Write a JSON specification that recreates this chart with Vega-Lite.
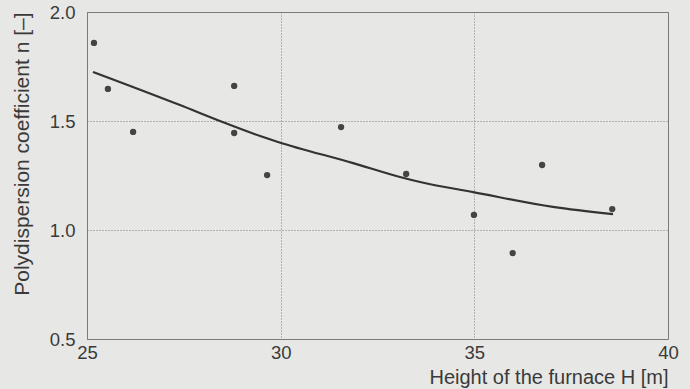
{
  "$schema": "https://vega.github.io/schema/vega-lite/v6.json",
  "width": 581,
  "height": 327,
  "autosize": {"type": "none"},
  "padding": {"left": 87, "top": 12, "right": 22, "bottom": 50},
  "background": "#e7e7e5",
  "config": {
    "view": {"stroke": "#7a7a7a", "strokeWidth": 1},
    "font": "Liberation Sans",
    "axis": {
      "labelFont": "Liberation Sans",
      "titleFont": "Liberation Sans",
      "labelFontSize": 18.5,
      "titleFontSize": 20,
      "labelColor": "#3a3a3a",
      "titleColor": "#3a3a3a",
      "titleFontWeight": "normal",
      "labelFlush": false,
      "labelOverlap": false,
      "ticks": false,
      "domain": false,
      "gridColor": "#7a7a7a",
      "gridDash": [1, 2],
      "gridWidth": 1
    }
  },
  "datasets": {
    "pts": [
      {"H": 25.18, "n": 1.858},
      {"H": 25.54, "n": 1.647},
      {"H": 26.19, "n": 1.45},
      {"H": 28.8, "n": 1.661},
      {"H": 28.8, "n": 1.445},
      {"H": 29.65, "n": 1.252},
      {"H": 31.56, "n": 1.472},
      {"H": 33.24, "n": 1.257},
      {"H": 34.99, "n": 1.069},
      {"H": 35.99, "n": 0.894},
      {"H": 36.75, "n": 1.298},
      {"H": 38.56, "n": 1.096}
    ],
    "fit": [
      {"H": 25.155, "n": 1.725},
      {"H": 27.4, "n": 1.573},
      {"H": 28.43, "n": 1.5},
      {"H": 29.47, "n": 1.431},
      {"H": 29.93, "n": 1.404},
      {"H": 31.87, "n": 1.307},
      {"H": 33.08, "n": 1.243},
      {"H": 33.6, "n": 1.22},
      {"H": 34.97, "n": 1.174},
      {"H": 37.03, "n": 1.106},
      {"H": 38.58, "n": 1.073}
    ]
  },
  "layer": [
    {
      "data": {"name": "fit"},
      "mark": {"type": "line", "color": "#333333", "strokeWidth": 2.2, "interpolate": "monotone"},
      "encoding": {
        "x": {
          "field": "H", "type": "quantitative",
          "scale": {"domain": [25, 40], "nice": false, "zero": false},
          "axis": {
            "values": [25, 30, 35, 40],
            "labelPadding": 4,
            "title": "Height of the furnace H [m]",
            "titleAnchor": "end",
            "titleBaseline": "alphabetic",
            "titleY": 44
          }
        },
        "y": {
          "field": "n", "type": "quantitative",
          "scale": {"domain": [0.5, 2.0], "nice": false, "zero": false},
          "axis": {
            "values": [0.5, 1.0, 1.5, 2.0],
            "format": ".1f",
            "labelPadding": 12,
            "title": "Polydispersion coefficient n [–]",
            "titleFontSize": 21,
            "titleAnchor": "end",
            "titleBaseline": "alphabetic",
            "titleX": -59
          }
        }
      }
    },
    {
      "data": {"name": "pts"},
      "mark": {"type": "circle", "color": "#444444", "opacity": 1, "size": 40},
      "encoding": {
        "x": {"field": "H", "type": "quantitative"},
        "y": {"field": "n", "type": "quantitative"}
      }
    }
  ]
}
